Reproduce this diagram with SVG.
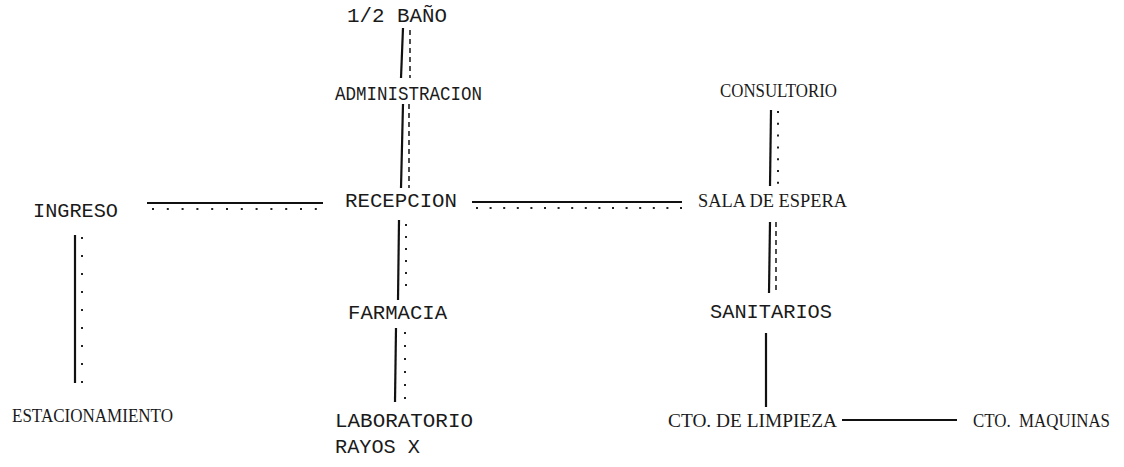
<svg xmlns="http://www.w3.org/2000/svg" width="1124" height="467" viewBox="0 0 1124 467">
<style>
.m{font-family:"Liberation Mono","DejaVu Sans Mono",monospace;font-size:20px;fill:#1a1a1a}
.s{font-family:"Liberation Serif","DejaVu Serif",serif;font-size:18px;fill:#1a1a1a}
.solid{stroke:#111;stroke-width:2.2;fill:none}
.dash{stroke:#222;stroke-width:1.6;fill:none;stroke-dasharray:5 4}
.dot{stroke:#222;stroke-width:2;fill:none;stroke-dasharray:2 12}
</style>
<rect width="1124" height="467" fill="#fff"/>
<g id="connectors">
  <line class="solid" x1="403" y1="28" x2="401" y2="78"/>
  <line class="dash" x1="410" y1="30" x2="410" y2="78"/>
  <line class="solid" x1="403" y1="104" x2="401" y2="188"/>
  <line class="dash" x1="409" y1="104" x2="409" y2="188"/>
  <line class="solid" x1="399" y1="220" x2="398" y2="300"/>
  <line class="dot" x1="406" y1="224" x2="406" y2="296" style="stroke-dasharray:2 10"/>
  <line class="solid" x1="396" y1="328" x2="395" y2="402"/>
  <line class="dot" x1="405" y1="332" x2="405" y2="400" style="stroke-dasharray:2 11"/>
  <line class="solid" x1="147" y1="203" x2="323" y2="203"/>
  <line class="dot" x1="152" y1="209" x2="318" y2="209" style="stroke-dasharray:2 12.8"/>
  <line class="solid" x1="472" y1="202" x2="682" y2="202"/>
  <line class="dot" x1="476" y1="208" x2="682" y2="208" style="stroke-dasharray:2 11.6"/>
  <line class="solid" x1="771" y1="110" x2="770" y2="186"/>
  <line class="dot" x1="778" y1="111" x2="778" y2="184" style="stroke-dasharray:2 9.8"/>
  <line class="solid" x1="770" y1="222" x2="769" y2="293"/>
  <line class="dash" x1="776" y1="222" x2="776" y2="293"/>
  <line class="solid" x1="766" y1="333" x2="766" y2="407"/>
  <line class="solid" x1="842" y1="420" x2="957" y2="420"/>
  <line class="solid" x1="75" y1="235" x2="75" y2="383"/>
  <line class="dot" x1="82" y1="237" x2="82" y2="383" style="stroke-dasharray:2 16"/>
</g>
<g id="bano"><text class="m" x="347" y="22" textLength="100" lengthAdjust="spacingAndGlyphs">1/2 BAÑO</text></g>
<g id="administracion"><text class="m" x="335" y="100" textLength="147" lengthAdjust="spacingAndGlyphs">ADMINISTRACION</text></g>
<g id="recepcion"><text class="m" x="345" y="207" textLength="112" lengthAdjust="spacingAndGlyphs">RECEPCION</text></g>
<g id="ingreso"><text class="m" x="33" y="217" textLength="85" lengthAdjust="spacingAndGlyphs">INGRESO</text></g>
<g id="sala-espera"><text class="s" x="698" y="207" textLength="149" lengthAdjust="spacingAndGlyphs">SALA DE ESPERA</text></g>
<g id="consultorio"><text class="s" x="720" y="97" textLength="117" lengthAdjust="spacingAndGlyphs">CONSULTORIO</text></g>
<g id="sanitarios"><text class="m" x="710" y="318" textLength="122" lengthAdjust="spacingAndGlyphs">SANITARIOS</text></g>
<g id="farmacia"><text class="m" x="348" y="319" textLength="99" lengthAdjust="spacingAndGlyphs">FARMACIA</text></g>
<g id="laboratorio"><text class="m" x="335" y="427" textLength="138" lengthAdjust="spacingAndGlyphs">LABORATORIO</text></g>
<g id="rayos-x"><text class="m" x="335" y="453" textLength="85" lengthAdjust="spacingAndGlyphs">RAYOS X</text></g>
<g id="estacionamiento"><text class="s" x="12" y="422" textLength="161" lengthAdjust="spacingAndGlyphs">ESTACIONAMIENTO</text></g>
<g id="cto-limpieza"><text class="s" x="668" y="427" textLength="169" lengthAdjust="spacingAndGlyphs">CTO. DE LIMPIEZA</text></g>
<g id="cto-maquinas"><text class="s" x="973" y="427" textLength="137" lengthAdjust="spacingAndGlyphs" xml:space="preserve">CTO.  MAQUINAS</text></g>
</svg>
